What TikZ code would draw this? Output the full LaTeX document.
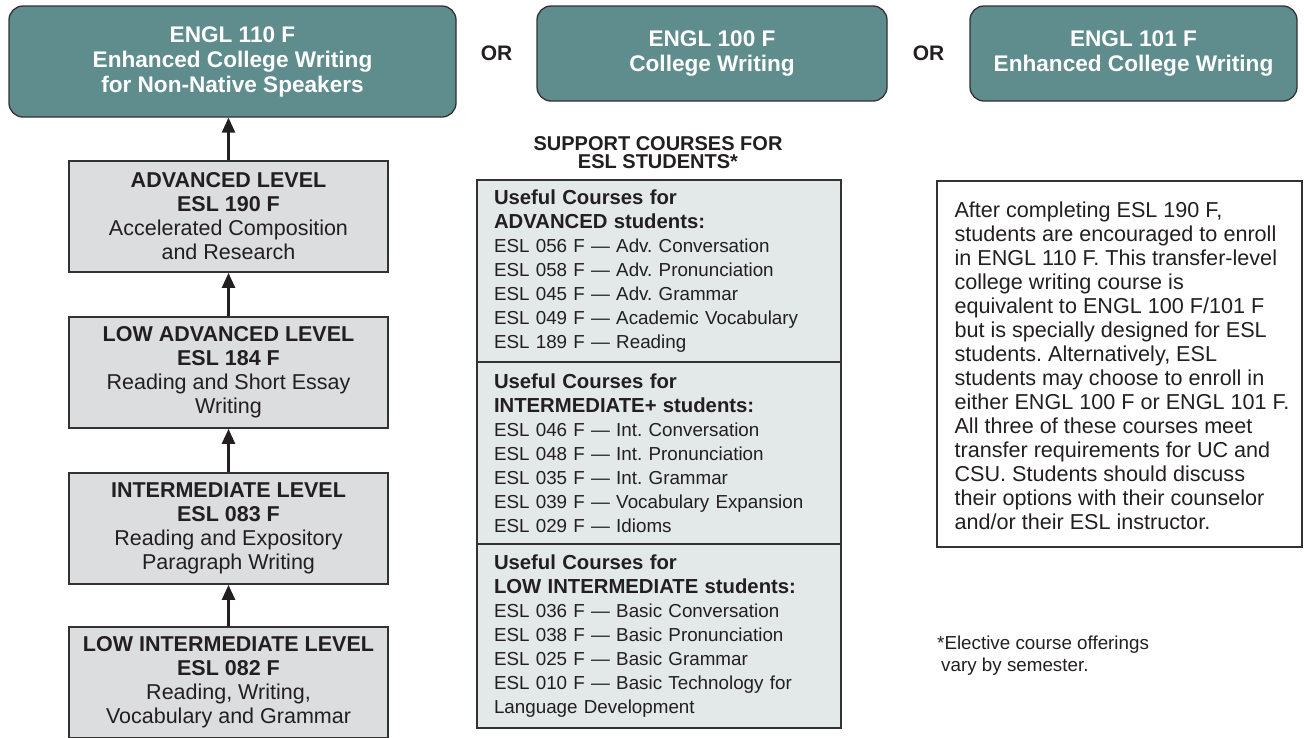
\documentclass[tikz,border=0pt]{standalone}
\usepackage{fontspec}
\setmainfont{Liberation Sans}
\usetikzlibrary{arrows.meta,calc}
\definecolor{tealfill}{RGB}{95,140,140}
\definecolor{levelfill}{RGB}{220,221,222}
\definecolor{secfill}{RGB}{227,232,233}
\definecolor{edgecol}{RGB}{50,50,50}
\definecolor{textcol}{RGB}{35,31,32}
\newcommand\boldline[1]{{\bfseries\fontsize{20.3}{24}\selectfont #1}}
\frenchspacing
\begin{document}
\begin{tikzpicture}[x=1pt,y=-1pt,
  topbox/.style={draw=edgecol, line width=1.3pt, fill=tealfill, rounded corners=14pt,
    text=white, font=\bfseries\fontsize{22.6}{25}\selectfont, align=center, inner sep=0pt},
  orlabel/.style={text=textcol, font=\bfseries\fontsize{21}{24}\selectfont, inner sep=0pt},
  levelbox/.style={draw=edgecol, line width=1.8pt, fill=levelfill, minimum width=319pt,
    minimum height=111pt, align=center, inner sep=0pt, text=textcol,
    font=\fontsize{21.5}{24}\selectfont},
  secbox/.style={draw=edgecol, line width=1.5pt, fill=secfill, minimum width=364pt,
    text width=330pt, inner xsep=17pt, inner ysep=0pt, align=left, text=textcol,
    font=\fontsize{18.8}{24}\selectfont},
  heading/.style={text=textcol, font=\bfseries\fontsize{20}{18}\selectfont, align=center, inner sep=0pt},
  notebox/.style={draw=edgecol, line width=1.3pt, fill=white, minimum width=365pt, minimum height=366pt, inner sep=0pt},
  notetext/.style={text=textcol, font=\fontsize{21.6}{24}\selectfont, align=left, inner sep=0pt},
  foottext/.style={text=textcol, font=\fontsize{18.8}{22}\selectfont, align=left, inner sep=0pt},
  arr/.style={draw=textcol, line width=2.6pt, -{Triangle[width=13pt,length=15pt]}}
]
\clip (0,0) rectangle (1304,737);
\fill[white] (0,0) rectangle (1304,737);

% top boxes
\node[topbox, minimum width=447pt, minimum height=111pt] (top1) at (232.5,61.5)
  {ENGL 110 F\\Enhanced College Writing\\for Non-Native Speakers};
\node[orlabel] (or1) at (496.5,53) {OR};
\node[topbox, minimum width=350pt, minimum height=95pt] (top2) at (712,53.5)
  {ENGL 100 F\\College Writing};
\node[orlabel] (or2) at (928.5,53) {OR};
\node[topbox, minimum width=327pt, minimum height=95pt] (top3) at (1133.5,53.5)
  {ENGL 101 F\\Enhanced College Writing};

% level boxes
\node[levelbox] (lvA) at (228.5,216.5)
  {\textbf{ADVANCED LEVEL}\\\textbf{ESL 190 F}\\Accelerated Composition\\and Research};
\node[levelbox] (lvB) at (228.5,372.5)
  {\textbf{LOW ADVANCED LEVEL}\\\textbf{ESL 184 F}\\Reading and Short Essay\\Writing};
\node[levelbox] (lvC) at (228.5,528.5)
  {\textbf{INTERMEDIATE LEVEL}\\\textbf{ESL 083 F}\\Reading and Expository\\Paragraph Writing};
\node[levelbox] (lvD) at (228.5,682.5)
  {\textbf{LOW INTERMEDIATE LEVEL}\\\textbf{ESL 082 F}\\Reading, Writing,\\Vocabulary and Grammar};

\draw[arr] (lvA.north) -- (lvA.north |- top1.south);
\draw[arr] (lvB.north) -- (lvA.south);
\draw[arr] (lvC.north) -- (lvB.south);
\draw[arr] (lvD.north) -- (lvC.south);

% support courses
\node[heading] (head) at (658,153) {SUPPORT COURSES FOR\\ESL STUDENTS*};
\node[secbox, minimum height=182pt] (sec1) at (659,271)
  {\boldline{Useful Courses for}\\\boldline{ADVANCED students:}\\
   ESL 056 F — Adv. Conversation\\ESL 058 F — Adv. Pronunciation\\
   ESL 045 F — Adv. Grammar\\ESL 049 F — Academic Vocabulary\\ESL 189 F — Reading};
\node[secbox, minimum height=182pt] (sec2) at (659,453)
  {\boldline{Useful Courses for}\\\boldline{INTERMEDIATE+ students:}\\
   ESL 046 F — Int. Conversation\\ESL 048 F — Int. Pronunciation\\
   ESL 035 F — Int. Grammar\\ESL 039 F — Vocabulary Expansion\\ESL 029 F — Idioms};
\node[secbox, minimum height=184pt] (sec3) at (659,636)
  {\boldline{Useful Courses for}\\\boldline{LOW INTERMEDIATE students:}\\
   ESL 036 F — Basic Conversation\\ESL 038 F — Basic Pronunciation\\
   ESL 025 F — Basic Grammar\\ESL 010 F — Basic Technology for\\Language Development};

% note
\node[notebox] (note) at (1119.5,364) {};
\node[notetext, anchor=north west] (notetxt) at ($(note.north west)+(18,21)$)
  {After completing ESL 190 F,\\students are encouraged to enroll\\in ENGL 110 F. This transfer-level\\
   college writing course is\\equivalent to ENGL 100 F/101 F\\but is specially designed for ESL\\
   students. Alternatively, ESL\\students may choose to enroll in\\either ENGL 100 F or ENGL 101 F.\\
   All three of these courses meet\\transfer requirements for UC and\\CSU. Students should discuss\\
   their options with their counselor\\and/or their ESL instructor.};

\node[foottext, anchor=north west] (foot) at (937,636)
  {*Elective course offerings\\\hspace*{4pt}vary by semester.};
\end{tikzpicture}
\end{document}
